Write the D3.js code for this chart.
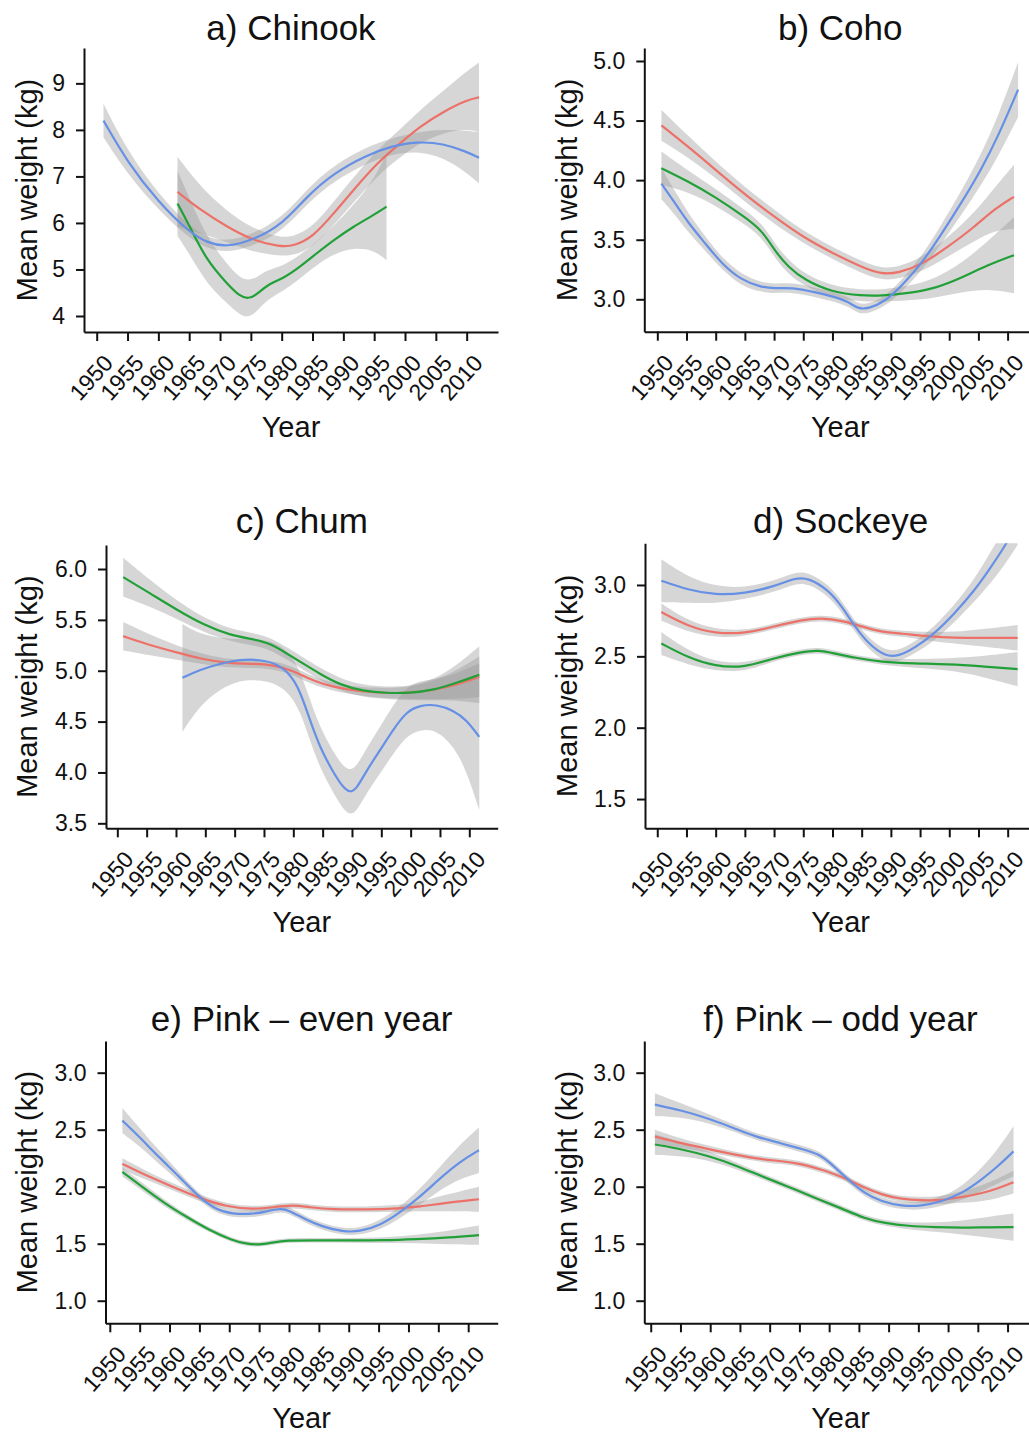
<!DOCTYPE html>
<html>
<head>
<meta charset="utf-8">
<script src="https://cdn.jsdelivr.net/npm/d3@7"></script>
<style>
  body { margin: 0; background: #ffffff; }
  svg text { font-family: "Liberation Sans", Arial, Helvetica, sans-serif; fill: #111; }
</style>
</head>
<body>
<svg id="chart" width="1029" height="1433"></svg>
<script>
// Smoothed mean weight by year: each row is [year, fitted mean (kg), half-width of the confidence band (kg)]
const chinookRed = [[1963.1,6.67,0.75],[1966.8,6.28,0.5],[1971.1,5.92,0.33],[1975.4,5.62,0.25],[1979.7,5.49,0.2],[1981.9,5.5,0.2],[1985.1,5.7,0.22],[1988.4,6.2,0.25],[1991.6,6.7,0.27],[1995.4,7.28,0.28],[1999.2,7.71,0.3],[2002.4,8.07,0.35],[2006.2,8.39,0.45],[2010,8.64,0.62],[2012,8.7,0.75]];
const chinookGreen = [[1963.1,6.42,0.7],[1965.1,5.92,0.6],[1967.8,5.2,0.5],[1971.1,4.7,0.42],[1973.2,4.42,0.4],[1974.6,4.37,0.4],[1975.9,4.45,0.37],[1977.6,4.67,0.32],[1980.3,4.81,0.27],[1983,5.06,0.25],[1985.7,5.35,0.25],[1988.4,5.63,0.3],[1991.6,5.92,0.45],[1994.9,6.17,0.75],[1997,6.35,1.15]];
const chinookBlue = [[1951.1,8.2,0.36],[1955,7.3,0.25],[1960,6.45,0.17],[1965,5.8,0.13],[1968,5.57,0.12],[1971,5.48,0.12],[1975.4,5.63,0.13],[1980.3,5.99,0.15],[1984,6.56,0.16],[1988.4,7.07,0.17],[1993.8,7.46,0.18],[1997.6,7.64,0.17],[2001.9,7.75,0.2],[2006.2,7.71,0.3],[2010,7.53,0.45],[2012,7.4,0.55]];

const cohoRed = [[1950.7,4.46,0.13],[1955.3,4.28,0.09],[1959.9,4.09,0.07],[1965,3.88,0.06],[1970.1,3.69,0.06],[1974.7,3.53,0.05],[1979.9,3.39,0.05],[1985,3.27,0.05],[1988.4,3.21,0.05],[1991.3,3.22,0.05],[1995.3,3.29,0.06],[1999.8,3.44,0.08],[2004.4,3.61,0.12],[2007.8,3.76,0.18],[2011.1,3.86,0.27]];
const cohoGreen = [[1950.7,4.10,0.14],[1955.3,3.99,0.09],[1959.9,3.86,0.07],[1965,3.69,0.06],[1967.9,3.58,0.06],[1970.1,3.41,0.06],[1972.4,3.27,0.06],[1975.3,3.16,0.05],[1979.9,3.06,0.05],[1985,3.03,0.05],[1988.4,3.03,0.05],[1993,3.05,0.06],[1997.5,3.09,0.08],[2002.1,3.18,0.12],[2006.7,3.29,0.2],[2011.1,3.37,0.32]];
const cohoBlue = [[1950.7,3.97,0.13],[1953,3.81,0.1],[1955.3,3.64,0.08],[1958.2,3.47,0.06],[1961,3.30,0.05],[1964.4,3.16,0.05],[1967.9,3.10,0.04],[1970.1,3.09,0.04],[1973,3.10,0.04],[1977,3.06,0.04],[1980.4,3.02,0.04],[1982.7,2.98,0.04],[1984.4,2.92,0.04],[1986.1,2.92,0.04],[1989,2.98,0.04],[1991.8,3.11,0.05],[1995.3,3.30,0.06],[1998.7,3.55,0.08],[2002.1,3.81,0.1],[2005.5,4.09,0.13],[2008.4,4.37,0.17],[2011.8,4.76,0.23]];

const chumRed = [[1951,5.34,0.14],[1955.6,5.25,0.1],[1960.1,5.18,0.07],[1964.7,5.11,0.05],[1969.2,5.07,0.04],[1973.2,5.07,0.04],[1977.2,5.05,0.04],[1979.9,5.0,0.04],[1983.4,4.90,0.04],[1986.8,4.84,0.04],[1990.8,4.80,0.04],[1995.3,4.78,0.05],[1999.9,4.78,0.06],[2003.9,4.81,0.09],[2007.8,4.86,0.14],[2011.7,4.94,0.2]];
const chumGreen = [[1951,5.92,0.19],[1955.6,5.76,0.13],[1960.1,5.60,0.09],[1964.7,5.45,0.07],[1969.2,5.35,0.06],[1973.2,5.31,0.06],[1976,5.27,0.06],[1978.9,5.17,0.06],[1981.7,5.07,0.06],[1984.5,4.97,0.06],[1988,4.86,0.06],[1991.9,4.80,0.06],[1995.9,4.78,0.06],[1999.9,4.78,0.07],[2003.9,4.81,0.1],[2007.8,4.88,0.17],[2011.7,4.96,0.28]];
const chumBlue = [[1961.1,4.93,0.53],[1964.1,5.01,0.35],[1967.5,5.07,0.25],[1970.9,5.11,0.2],[1974.3,5.11,0.2],[1977.2,5.07,0.2],[1979.4,4.97,0.2],[1981.1,4.81,0.2],[1982.8,4.52,0.2],[1984.5,4.25,0.2],[1986.8,4.0,0.2],[1988.5,3.85,0.21],[1989.7,3.80,0.22],[1990.8,3.84,0.22],[1992.5,4.02,0.22],[1994.8,4.22,0.23],[1997,4.42,0.24],[1999.3,4.60,0.24],[2001.6,4.66,0.24],[2004.4,4.67,0.25],[2007.3,4.61,0.35],[2009.5,4.52,0.5],[2011.7,4.35,0.72]];

const sockeyeRed = [[1950.7,2.81,0.06],[1955.3,2.71,0.04],[1959.9,2.66,0.03],[1965,2.66,0.02],[1970.1,2.71,0.02],[1974.7,2.755,0.02],[1978.1,2.77,0.02],[1981.6,2.75,0.02],[1985,2.71,0.02],[1988.4,2.67,0.02],[1991.8,2.66,0.02],[1996.4,2.64,0.03],[2000.9,2.63,0.04],[2005.5,2.63,0.06],[2011.7,2.63,0.09]];
const sockeyeGreen = [[1950.7,2.59,0.08],[1955.3,2.49,0.05],[1959.9,2.43,0.03],[1965,2.42,0.03],[1970.1,2.49,0.02],[1974.7,2.53,0.02],[1977.5,2.545,0.02],[1980.4,2.52,0.02],[1983.8,2.49,0.02],[1988.4,2.46,0.02],[1994.1,2.45,0.03],[1999.8,2.445,0.04],[2005.5,2.43,0.07],[2011.7,2.41,0.12]];
const sockeyeBlue = [[1950.7,3.03,0.15],[1955.3,2.965,0.09],[1959.9,2.93,0.06],[1965,2.94,0.04],[1970.1,2.99,0.04],[1973.6,3.05,0.04],[1975.9,3.05,0.04],[1979.3,2.965,0.04],[1981.6,2.85,0.04],[1983.8,2.71,0.04],[1986.1,2.59,0.04],[1989,2.50,0.04],[1991.3,2.50,0.04],[1994.1,2.56,0.04],[1997.5,2.66,0.05],[2000.9,2.80,0.06],[2004.4,2.965,0.08],[2007.2,3.13,0.11],[2009.5,3.27,0.13],[2011.7,3.43,0.15]];

const pinkEvenRed = [[1952.1,2.2,0.05],[1956,2.10,0.04],[1960.5,2.0,0.03],[1965,1.90,0.03],[1969.5,1.825,0.025],[1974,1.80,0.025],[1977.3,1.82,0.025],[1980.6,1.84,0.025],[1983.4,1.82,0.025],[1987.3,1.80,0.025],[1992.9,1.80,0.025],[1998.5,1.81,0.03],[2001.9,1.825,0.04],[2005.8,1.855,0.07],[2011.8,1.89,0.11]];
const pinkEvenGreen = [[1952.1,2.13,0.04],[1955.4,2.0,0.035],[1959.3,1.85,0.03],[1962.7,1.74,0.025],[1966.6,1.62,0.02],[1970.5,1.53,0.02],[1972.8,1.50,0.02],[1975,1.49,0.02],[1977.2,1.51,0.02],[1979.5,1.53,0.02],[1984.5,1.53,0.02],[1990,1.53,0.02],[1995.7,1.53,0.025],[2001.3,1.54,0.035],[2006.9,1.555,0.06],[2011.8,1.575,0.085]];
const pinkEvenBlue = [[1952.1,2.58,0.11],[1954.9,2.44,0.08],[1958.2,2.26,0.06],[1961.6,2.09,0.04],[1964.9,1.91,0.03],[1967.7,1.80,0.03],[1970.5,1.76,0.03],[1973.9,1.76,0.03],[1976.1,1.78,0.03],[1978.4,1.81,0.03],[1980,1.795,0.03],[1982.8,1.71,0.03],[1985.6,1.65,0.03],[1989,1.605,0.03],[1991.8,1.605,0.03],[1995.2,1.66,0.04],[1998.5,1.77,0.05],[2001.9,1.91,0.07],[2005.2,2.07,0.1],[2008.6,2.22,0.15],[2011.8,2.32,0.2]];

const pinkOddRed = [[1950.7,2.44,0.06],[1955.2,2.38,0.04],[1959.7,2.33,0.03],[1964.2,2.28,0.025],[1968.7,2.24,0.025],[1972,2.225,0.025],[1975.4,2.20,0.025],[1978.7,2.15,0.025],[1982.1,2.09,0.025],[1985.5,2.0,0.025],[1988.8,1.93,0.025],[1992.2,1.89,0.025],[1995.5,1.88,0.03],[1998.9,1.88,0.035],[2002.3,1.91,0.05],[2005.6,1.94,0.07],[2008.4,1.985,0.085],[2011,2.04,0.1]];
const pinkOddGreen = [[1950.7,2.37,0.09],[1955.2,2.33,0.06],[1959.7,2.27,0.04],[1964.2,2.19,0.03],[1968.7,2.09,0.025],[1973.2,2.0,0.025],[1977.7,1.90,0.025],[1982.1,1.81,0.025],[1986,1.72,0.025],[1989.4,1.68,0.025],[1993.3,1.655,0.03],[1997.8,1.645,0.04],[2002.3,1.64,0.06],[2006.7,1.645,0.09],[2011,1.645,0.12]];
const pinkOddBlue = [[1950.7,2.72,0.1],[1955.2,2.67,0.06],[1959.7,2.60,0.04],[1964.2,2.51,0.03],[1967.5,2.44,0.03],[1972,2.38,0.03],[1975.4,2.33,0.03],[1978.2,2.29,0.03],[1980.4,2.20,0.03],[1983.2,2.06,0.03],[1986,1.94,0.03],[1988.8,1.87,0.03],[1992.2,1.83,0.03],[1995.5,1.83,0.035],[1998.9,1.87,0.04],[2002.3,1.94,0.06],[2005.6,2.06,0.1],[2008.4,2.18,0.15],[2011,2.31,0.22]];

// Axis ticks
const yearTicks = [1950,1955,1960,1965,1970,1975,1980,1985,1990,1995,2000,2005,2010];
const chinookTicks = [4,5,6,7,8,9];
const cohoTicks = [3.0,3.5,4.0,4.5,5.0];
const chumTicks = [3.5,4.0,4.5,5.0,5.5,6.0];
const sockeyeTicks = [1.5,2.0,2.5,3.0];
const pinkTicks = [1.0,1.5,2.0,2.5,3.0];

const panelTitles = ["a) Chinook","b) Coho","c) Chum","d) Sockeye","e) Pink \u2013 even year","f) Pink \u2013 odd year"];
const seriesColors = ["#ec7168","#21a038","#6690e6"];

// Panel geometry and scale extents
const panels = [
  { title: panelTitles[0], series: [chinookRed, chinookGreen, chinookBlue], yTicks: chinookTicks, fmt: d3.format("d"),
    x: [1947.94, 2015.08], y: [3.656, 9.76], box: { l: 84, r: 498, t: 48, b: 332 }, yTitleX: 37, titleY: 40, xTitleY: 437 },
  { title: panelTitles[1], series: [cohoRed, cohoGreen, cohoBlue], yTicks: cohoTicks, fmt: d3.format(".1f"),
    x: [1947.77, 2014.9], y: [2.728, 5.109], box: { l: 644.3, r: 1036.2, t: 48, b: 331.7 }, yTitleX: 577, titleY: 40, xTitleY: 437 },
  { title: panelTitles[2], series: [chumRed, chumGreen, chumBlue], yTicks: chumTicks, fmt: d3.format(".1f"),
    x: [1948.07, 2014.84], y: [3.451, 6.236], box: { l: 106, r: 497.7, t: 545, b: 828.3 }, yTitleX: 37, titleY: 533, xTitleY: 932 },
  { title: panelTitles[3], series: [sockeyeRed, sockeyeGreen, sockeyeBlue], yTicks: sockeyeTicks, fmt: d3.format(".1f"),
    x: [1947.9, 2014.9], y: [1.295, 3.292], box: { l: 645, r: 1036.3, t: 543.3, b: 828.3 }, yTitleX: 577, titleY: 533, xTitleY: 932 },
  { title: panelTitles[4], series: [pinkEvenRed, pinkEvenGreen, pinkEvenBlue], yTicks: pinkTicks, fmt: d3.format(".1f"),
    x: [1949.28, 2014.94], y: [0.802, 3.278], box: { l: 105.5, r: 497.7, t: 1041, b: 1323.3 }, yTitleX: 37, titleY: 1031, xTitleY: 1428 },
  { title: panelTitles[5], series: [pinkOddRed, pinkOddGreen, pinkOddBlue], yTicks: pinkTicks, fmt: d3.format(".1f"),
    x: [1948.92, 2014.9], y: [0.802, 3.278], box: { l: 644.3, r: 1036.7, t: 1041, b: 1323.3 }, yTitleX: 577, titleY: 1031, xTitleY: 1428 }
];

const svg = d3.select("#chart");
svg.append("rect").attr("width", 1029).attr("height", 1433).attr("fill", "#ffffff");

panels.forEach((p, i) => {
  const g = svg.append("g");
  const xs = d3.scaleLinear().domain(p.x).range([p.box.l, p.box.r]);
  const ys = d3.scaleLinear().domain(p.y).range([p.box.b, p.box.t]);
  const cx = (p.box.l + p.box.r) / 2;
  const cy = (p.box.t + p.box.b) / 2;

  const clipId = "clip" + i;
  g.append("clipPath").attr("id", clipId)
    .append("rect").attr("x", p.box.l).attr("y", p.box.t)
    .attr("width", p.box.r - p.box.l).attr("height", p.box.b - p.box.t);

  const plot = g.append("g").attr("clip-path", `url(#${clipId})`);
  const curve = d3.curveBasis;

  const band = d3.area()
    .x(d => xs(d[0])).y0(d => ys(d[1] - d[2])).y1(d => ys(d[1] + d[2])).curve(curve);
  const line = d3.line().x(d => xs(d[0])).y(d => ys(d[1])).curve(curve);

  // confidence bands first, then fitted curves on top
  p.series.forEach(s => {
    plot.append("path").attr("d", band(s)).attr("fill", "#999999").attr("fill-opacity", 0.4).attr("stroke", "none");
  });
  p.series.forEach((s, k) => {
    plot.append("path").attr("d", line(s)).attr("fill", "none")
      .attr("stroke", seriesColors[k]).attr("stroke-width", 2.2).attr("stroke-linejoin", "round");
  });

  // x axis
  const xAxis = g.append("g").attr("transform", `translate(0,${p.box.b})`)
    .call(d3.axisBottom(xs).tickValues(yearTicks).tickSize(9).tickSizeOuter(0).tickFormat(d3.format("d")));
  xAxis.select(".domain").attr("stroke", "#111").attr("stroke-width", 2);
  xAxis.selectAll(".tick line").attr("stroke", "#111").attr("stroke-width", 2);
  xAxis.selectAll(".tick text")
    .attr("font-size", 23).attr("fill", "#111")
    .attr("text-anchor", "end").attr("dy", null).attr("y", null)
    .attr("transform", "translate(17,32) rotate(-48)");

  // y axis
  const yAxis = g.append("g").attr("transform", `translate(${p.box.l},0)`)
    .call(d3.axisLeft(ys).tickValues(p.yTicks).tickSize(8).tickSizeOuter(0).tickPadding(11).tickFormat(p.fmt));
  yAxis.select(".domain").attr("stroke", "#111").attr("stroke-width", 2);
  yAxis.selectAll(".tick line").attr("stroke", "#111").attr("stroke-width", 2);
  yAxis.selectAll(".tick text").attr("font-size", 23).attr("fill", "#111");

  // titles
  g.append("text").attr("x", cx).attr("y", p.titleY).attr("text-anchor", "middle")
    .attr("font-size", 35).text(p.title);
  g.append("text").attr("x", cx).attr("y", p.xTitleY).attr("text-anchor", "middle")
    .attr("font-size", 29).text("Year");
  g.append("text").attr("transform", `translate(${p.yTitleX},${cy}) rotate(-90)`)
    .attr("text-anchor", "middle").attr("font-size", 29).text("Mean weight (kg)");
});
</script>
</body>
</html>
